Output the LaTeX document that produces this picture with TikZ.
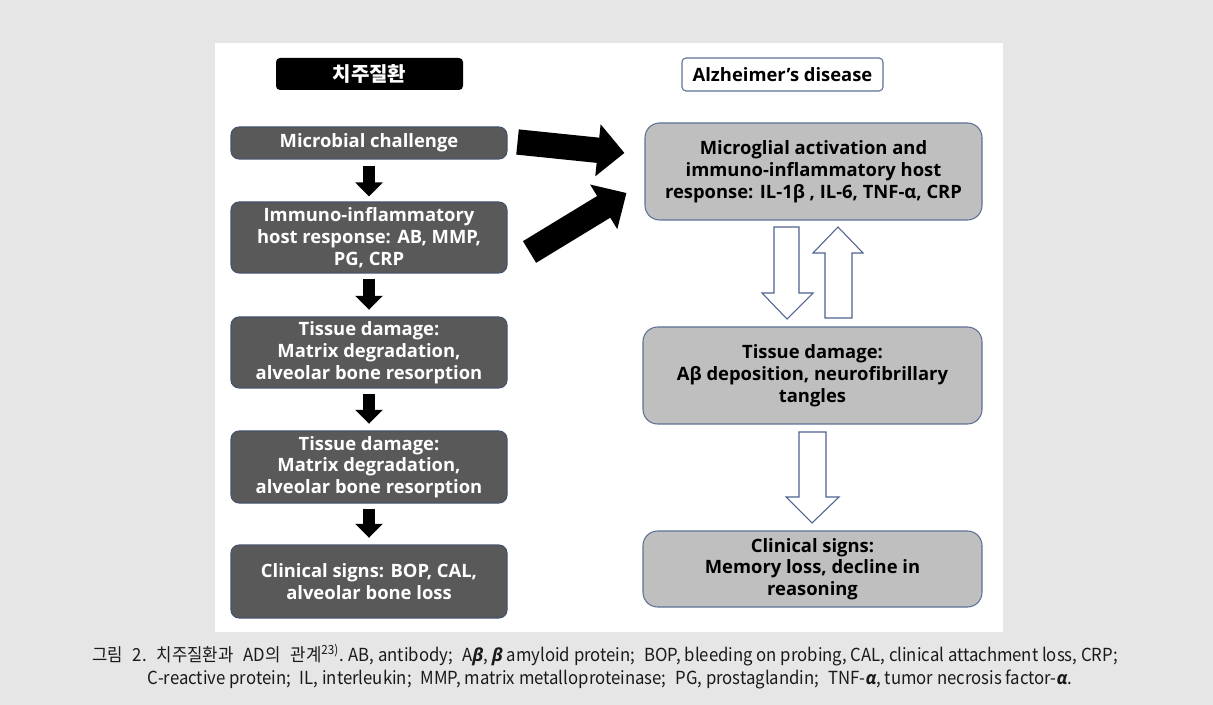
\documentclass[tikz,border=0pt]{standalone}
\usepackage{fontspec}
\setmainfont{Open Sans}
\newfontfamily\krfont{Noto Sans CJK KR}
\newfontfamily\capfont{Noto Sans CJK KR}[FakeStretch=0.93]
\usetikzlibrary{arrows.meta,calc}
\definecolor{bgout}{HTML}{E6E6E6}
\definecolor{darkbox}{HTML}{595959}
\definecolor{darkedge}{HTML}{44546A}
\definecolor{lightbox}{HTML}{BFBFBF}
\definecolor{lightedge}{HTML}{5E7196}
\definecolor{hollowedge}{HTML}{4F6390}
\definecolor{captext}{HTML}{1A1A1A}
\newcommand{\boxfnt}{\bfseries\fontsize{13.8}{16.3}\selectfont}
\newcommand{\gk}[1]{{\fontspec{Open Sans}\bfseries\itshape #1}}
\newcommand{\sm}{;\hspace{0.5em}}
\newcommand{\ks}{\hspace{0.55em}}
\begin{document}
\begin{tikzpicture}[x=0.75pt,y=-0.75pt,
  darkstep/.style={rectangle, rounded corners=6pt, fill=darkbox, draw=darkedge, line width=0.8pt,
    text=white, font=\boxfnt, align=center, minimum width={276*0.75}, inner sep=0pt},
  lightstep/.style={rectangle, rounded corners=11pt, fill=lightbox, draw=lightedge, line width=0.8pt,
    text=black, font=\boxfnt, align=center, minimum width={338*0.75}, inner sep=0pt},
  smallarrow/.style={line width=9pt, -{Triangle[length=10.5pt,width=20pt]}},
  bigarrow/.style={line width=19pt, -{Triangle[length=20pt,width=38pt]}},
  hollow/.style={draw=hollowedge, fill=white, line width=0.8pt, line join=miter},
  captxt/.style={font=\capfont\fontsize{13.5}{15}\selectfont, text=captext, inner sep=0pt}
]
\useasboundingbox (0,0) rectangle (1213,705);
\fill[bgout] (0,0) rectangle (1213,705);
\fill[white] (215,43) rectangle (1003,632);

% headers
\node[rectangle, rounded corners=3pt, fill=black, minimum width={187*0.75}, minimum height={32*0.75},
  text=white, font=\krfont\bfseries\fontsize{15}{17}\selectfont, inner sep=0pt] (hdrL) at (369.5,74) {치주질환};
\node[rectangle, rounded corners=3pt, fill=white, draw=lightedge, line width=0.8pt, minimum width={201*0.75},
  minimum height={33*0.75}, font=\boxfnt, inner sep=0pt] (hdrR) at (782.5,74.5) {Alzheimer’s disease};

% left column
\node[darkstep, minimum height={32*0.75}] (L1) at (369,143) {Microbial challenge};
\node[darkstep, minimum height={71*0.75}] (L2) at (369,237.5) {Immuno-inflammatory\\host response: AB, MMP,\\PG, CRP};
\node[darkstep, minimum height={71*0.75}] (L3) at (369,352.5) {Tissue damage:\\Matrix degradation,\\alveolar bone resorption};
\node[darkstep, minimum height={72*0.75}] (L4) at (369,467) {Tissue damage:\\Matrix degradation,\\alveolar bone resorption};
\node[darkstep, minimum height={73*0.75}] (L5) at (369,581.5) {Clinical signs: BOP, CAL,\\alveolar bone loss};

% right column
\node[lightstep, minimum width={337*0.75}, minimum height={97*0.75}] (R1) at (813.5,171.5) {Microglial activation and\\immuno-inflammatory host\\response: IL-1β , IL-6, TNF-α, CRP};
\node[lightstep, minimum width={339*0.75}, minimum height={97*0.75}] (R2) at (812.5,375.5) {Tissue damage:\\Aβ deposition, neurofibrillary\\tangles};
\node[lightstep, minimum width={339*0.75}, minimum height={76*0.75}] (R3) at (812.5,569) {Clinical signs:\\Memory loss, decline in\\reasoning};

% small black arrows
\draw[smallarrow, shorten <=4.5pt, shorten >=3.75pt] (L1.south) -- (L2.north);
\draw[smallarrow, shorten <=3.75pt, shorten >=5pt] (L2.south) -- (L3.north);
\draw[smallarrow, shorten <=3.75pt, shorten >=5pt] (L3.south) -- (L4.north);
\draw[smallarrow, shorten <=3.75pt, shorten >=5pt] (L4.south) -- (L5.north);

% big black arrows
\coordinate (a1s) at ($(L1.east)+(10,-1)$);
\coordinate (a1e) at ($(R1.west)+(-20,-18.5)$);
\coordinate (a2s) at ($(L2.east)+(22,14.5)$);
\coordinate (a2e) at ($(R1.west)+(-18,21.5)$);
\draw[bigarrow] (a1s) -- (a1e);
\draw[bigarrow] (a2s) -- (a2e);

% hollow arrows between R1 and R2
\filldraw[hollow] (774,227) -- (799,227) -- (799,293) -- (813,293) -- (787,319) -- (762,293) -- (774,293) -- cycle;
\filldraw[hollow] (825,318) -- (852,318) -- (852,253) -- (863,253) -- (838,227) -- (813,253) -- (825,253) -- cycle;
% hollow arrow between R2 and R3
\filldraw[hollow] (799,432) -- (826,432) -- (826,497) -- (839,497) -- (812,523) -- (786,497) -- (799,497) -- cycle;

% caption
\node[captxt] (cap1) at (605,655) {그림\ks 2.\ks 치주질환과\ks AD의\ks 관계\textsuperscript{23)}. AB, antibody\sm A\gk{β}, \gk{β} amyloid protein\sm BOP, bleeding on probing, CAL, clinical attachment loss, CRP;};
\node[captxt] (cap2) at (610,679) {C-reactive protein\sm IL, interleukin\sm MMP, matrix metalloproteinase\sm PG, prostaglandin\sm TNF-\gk{α}, tumor necrosis factor-\gk{α}.};
\end{tikzpicture}
\end{document}
